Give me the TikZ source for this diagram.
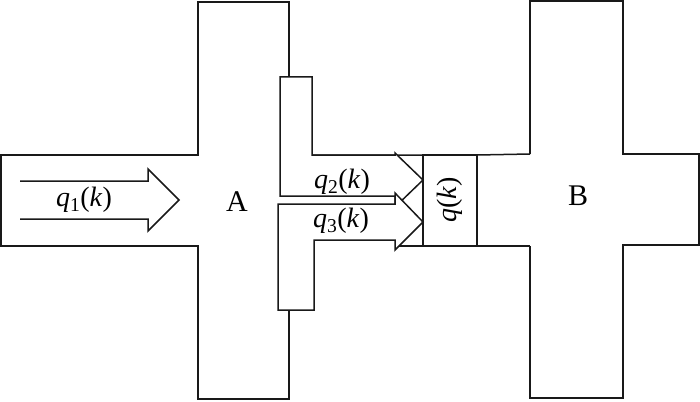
\documentclass[tikz,border=0pt]{standalone}
\usepackage{fontspec}
\setmainfont{Liberation Serif}
\newcommand{\qlab}[1]{\textit{q}\textsubscript{#1}(\textit{k})}
\begin{document}
\begin{tikzpicture}[x=1pt,y=-1pt,
  wall/.style={draw=black!90,line width=1.5pt,line join=miter},
  lab/.style={font=\fontsize{28}{30}\selectfont,inner sep=0pt},
  big/.style={font=\fontsize{30}{32}\selectfont,inner sep=0pt}]
\useasboundingbox (0,0) rectangle (700,401);
% cross A
\draw[wall] (289,77) -- (289,2) -- (198,2) -- (198,155) -- (1,155) -- (1,246) -- (198,246) -- (198,399) -- (289,399) -- (289,310);
% corridor line top and bottom
\draw[wall] (312,155) -- (477,155) -- (530,154);
\draw[wall] (399,246) -- (530,246);
% upper piece with q2 arrow
\draw[wall,fill=white] (280,77) -- (312,77) -- (312,155) -- (395,155) -- (395,153) -- (423,180) -- (395,207) -- (395,196) -- (280,196) -- cycle;
% lower piece with q3 arrow
\draw[wall,fill=white] (278,204) -- (395,204) -- (395,193) -- (423,222) -- (395,250) -- (395,240) -- (314,240) -- (314,310) -- (278,310) -- cycle;
% q(k) box
\draw[wall] (423,155) rectangle (477,246);
% cross B
\draw[wall] (530,154) -- (530,1) -- (623,1) -- (623,154) -- (699,154) -- (699,245) -- (623,245) -- (623,398) -- (530,398) -- (530,246);
% q1 arrow
\draw[wall] (20,181) -- (148,181) -- (148,169) -- (179,200) -- (148,231) -- (148,219) -- (20,219);
% labels
\node[lab] (q1) at (84,200) {\qlab{1}};
\node[lab] (q2) at (342,182) {\qlab{2}};
\node[lab] (q3) at (341,221) {\qlab{3}};
\node[lab,rotate=90] (q) at (450,200) {\textit{q}(\textit{k})};
\node[big] (A) at (237,202) {A};
\node[big] (B) at (578,196) {B};
\end{tikzpicture}
\end{document}
